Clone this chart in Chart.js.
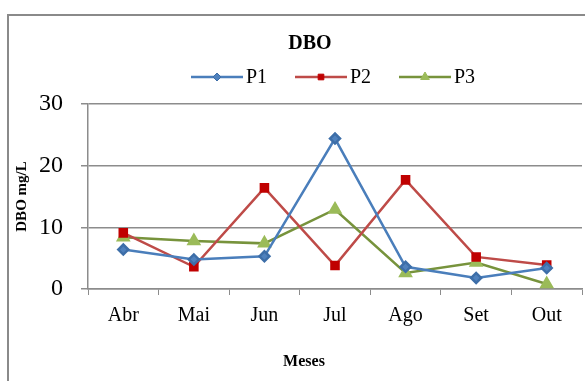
<!DOCTYPE html>
<html>
<head>
<meta charset="utf-8">
<script src="https://cdn.jsdelivr.net/npm/chart.js@4/dist/chart.umd.min.js"></script>
<style>
  html, body { margin: 0; padding: 0; background: #fff; }
  #wrap { position: relative; width: 585px; height: 381px; overflow: hidden; }
</style>
</head>
<body>
<div id="wrap"><canvas id="dboChart" width="585" height="381"></canvas></div>
<script>
// values
const months = ['Abr', 'Mai', 'Jun', 'Jul', 'Ago', 'Set', 'Out'];
const p1 = [6.4, 4.8, 5.3, 24.4, 3.6, 1.8, 3.4];
const p2 = [9.1, 3.6, 16.4, 3.8, 17.7, 5.2, 3.9];
const p3 = [8.4, 7.8, 7.4, 12.9, 2.6, 4.3, 0.8];
const yTicks = [0, 10, 20, 30];

const serif = "'Liberation Serif', 'Times New Roman', serif";
const gridColor = '#8c8c8c';

function noPadding(axis) {
  axis.paddingLeft = 0;
  axis.paddingRight = 0;
  axis.paddingTop = 0;
  axis.paddingBottom = 0;
}

// outer frame, title, legend and x title drawn by hand (Excel-like placement)
const framePlugin = {
  id: 'frame',
  beforeDraw(chart) {
    const ctx = chart.ctx;
    ctx.save();
    ctx.strokeStyle = '#8a8a8a';
    ctx.lineWidth = 2;
    ctx.strokeRect(8, 15, 700, 500);
    ctx.restore();
  },
  afterDraw(chart) {
    const ctx = chart.ctx;
    ctx.save();
    ctx.fillStyle = '#000';
    ctx.textAlign = 'center';
    ctx.textBaseline = 'middle';
    ctx.font = 'bold 20px ' + serif;
    ctx.fillText('DBO', 310, 44);

    ctx.font = 'bold 16px ' + serif;
    ctx.fillText('Meses', 304, 362);

    // legend
    let x = 191;
    const y = 77;
    ctx.font = '20px ' + serif;
    chart.data.datasets.forEach((ds) => {
      ctx.strokeStyle = ds.borderColor;
      ctx.lineWidth = 2.5;
      ctx.beginPath();
      ctx.moveTo(x, y);
      ctx.lineTo(x + 52, y);
      ctx.stroke();
      ctx.fillStyle = ds.pointBackgroundColor;
      ctx.strokeStyle = ds.pointBorderColor;
      ctx.lineWidth = 1;
      Chart.helpers.drawPoint(ctx, {
        pointStyle: ds.pointStyle,
        radius: ds.pointRadius - 1,
        borderWidth: 1
      }, x + 26, y);
      ctx.fillStyle = '#000';
      ctx.textAlign = 'left';
      ctx.fillText(ds.label, x + 55, y + 1);
      x += 104;
    });
    ctx.restore();
  }
};

const ctx = document.getElementById('dboChart');

new Chart(ctx, {
  type: 'line',
  data: {
    labels: months,
    datasets: [
      {
        label: 'P1',
        data: p1,
        borderColor: '#4a7ebb',
        borderWidth: 2.5,
        pointStyle: 'rectRot',
        pointRadius: 5,
        pointBackgroundColor: '#4f81bd',
        pointBorderColor: '#3d6ea8',
        tension: 0
      },
      {
        label: 'P2',
        data: p2,
        borderColor: '#be4b48',
        borderWidth: 2.5,
        pointStyle: 'rect',
        pointRadius: 5,
        pointBackgroundColor: '#c00000',
        pointBorderColor: '#c00000',
        tension: 0
      },
      {
        label: 'P3',
        data: p3,
        borderColor: '#77933c',
        borderWidth: 2.5,
        pointStyle: 'triangle',
        pointRadius: 6,
        pointBackgroundColor: '#9bbb59',
        pointBorderColor: '#9bbb59',
        tension: 0
      }
    ]
  },
  options: {
    responsive: false,
    animation: false,
    layout: {
      autoPadding: false,
      padding: { top: 104, right: 3, left: 0, bottom: 0 }
    },
    plugins: {
      legend: { display: false },
      title: { display: false },
      tooltip: { enabled: false }
    },
    scales: {
      x: {
        offset: true,
        afterFit: (axis) => {
          noPadding(axis);
          axis.height = 92;
        },
        grid: {
          offset: true,
          drawOnChartArea: false,
          drawTicks: true,
          tickLength: 6,
          color: gridColor
        },
        border: { color: gridColor, width: 1.5 },
        ticks: {
          color: '#000',
          padding: 9,
          font: { family: serif, size: 20 }
        }
      },
      y: {
        min: 0,
        max: 30,
        afterBuildTicks: (axis) => {
          axis.ticks = yTicks.map((v) => ({ value: v }));
        },
        afterFit: (axis) => {
          noPadding(axis);
          axis.width = 88;
        },
        grid: {
          color: gridColor,
          lineWidth: 1.5,
          tickLength: 7
        },
        border: { color: gridColor, width: 1.5 },
        ticks: {
          color: '#000',
          padding: 18,
          font: { family: serif, size: 24 }
        },
        title: {
          display: true,
          text: 'DBO mg/L',
          color: '#000',
          padding: { top: 13, bottom: 0 },
          font: { family: serif, size: 15, weight: 'bold' }
        }
      }
    }
  },
  plugins: [framePlugin]
});
</script>
</body>
</html>
